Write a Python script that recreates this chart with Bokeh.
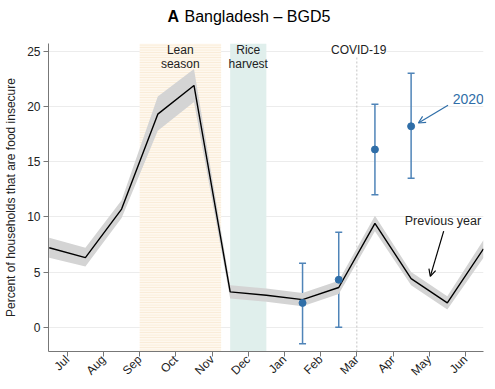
from bokeh.plotting import figure
from bokeh.layouts import column
from bokeh.models import (ColumnDataSource, BoxAnnotation, Label, Whisker,
                          TeeHead, Arrow, OpenHead, FixedTicker)
from bokeh.core.properties import value
from bokeh.embed import file_html
from bokeh.resources import INLINE
import math

# ---- data ----
months = ["Jul", "Aug", "Sep", "Oct", "Nov", "Dec", "Jan", "Feb", "Mar", "Apr", "May", "Jun"]
prev_x = [-0.5, 0.5, 1.5, 2.5, 3.5, 4.5, 5.5, 6.5, 7.5, 8.5, 9.5, 10.5, 11.5]
prev_year = [7.2, 6.3, 10.7, 19.3, 21.9, 3.2, 2.9, 2.5, 3.6, 9.4, 4.4, 2.2, 7.1]
prev_lo = [6.3, 5.5, 9.9, 17.8, 20.4, 2.6, 2.3, 1.9, 3.0, 8.7, 3.8, 1.6, 6.3]
prev_hi = [8.1, 7.2, 11.5, 20.9, 23.4, 3.8, 3.5, 3.1, 4.2, 10.1, 5.0, 2.8, 7.9]

y2020_x = [6.5, 7.5, 8.5, 9.5]
y2020 = [2.2, 4.3, 16.1, 18.2]
y2020_lo = [-1.5, 0.0, 12.0, 13.5]
y2020_hi = [5.8, 8.6, 20.2, 23.0]

lean_season = (2.0, 4.25)
rice_harvest = (4.5, 5.5)
covid_start = 8.0
y_ticks = [0, 5, 10, 15, 20, 25]
title_letter = "A"
title_text = "Bangladesh \u2013 BGD5"

FONT = "Liberation Sans"
BLUE = "#2f6ea8"
Y0, Y1 = -2.2, 25.7

# ---- title strip (its frame is aligned with the main plot frame: 48..483 px) ----
t = figure(width=488, height=43, x_range=(48, 483), y_range=(0, 43),
           output_backend="svg", toolbar_location=None,
           x_axis_type=None, y_axis_type=None,
           min_border_left=48, min_border_right=5, min_border_top=0, min_border_bottom=0)
t.outline_line_color = None
t.xgrid.grid_line_color = None
t.ygrid.grid_line_color = None
t.text(x=[167], y=[27], text=[title_letter], text_font=value(FONT),
       text_font_size="16px", text_font_style="bold", text_color="black",
       text_align="left", text_baseline="middle")
t.text(x=[184], y=[27], text=[title_text], text_font=value(FONT),
       text_font_size="16px", text_color="black",
       text_align="left", text_baseline="middle")

# ---- main plot ----
p = figure(width=488, height=343, x_range=(-0.52, 11.5), y_range=(Y0, Y1),
           output_backend="svg", toolbar_location=None,
           min_border_left=48, min_border_right=5, min_border_top=0, min_border_bottom=10)
p.title = None
p.outline_line_color = None

p.add_layout(BoxAnnotation(left=lean_season[0], right=lean_season[1],
                           fill_color="#fef8ef", fill_alpha=1.0, line_color=None,
                           hatch_pattern="horizontal_line", hatch_color="#f8e6cc",
                           hatch_alpha=0.8, hatch_scale=2.5, hatch_weight=1,
                           level="underlay"))
p.add_layout(BoxAnnotation(left=rice_harvest[0], right=rice_harvest[1],
                           fill_color="#e0efec", fill_alpha=1.0, line_color=None,
                           level="underlay"))

p.segment(x0=[covid_start], y0=[Y0], x1=[covid_start], y1=[Y1],
          line_color="#c4c4c4", line_dash="2 2", line_width=1)

src = ColumnDataSource(dict(x=prev_x, y=prev_year, lo=prev_lo, hi=prev_hi))
p.varea(x="x", y1="lo", y2="hi", source=src, fill_color="#d4d4d4", fill_alpha=1.0)
p.line(x="x", y="y", source=src, line_color="black", line_width=1.4)

src20 = ColumnDataSource(dict(x=y2020_x, y=y2020, lo=y2020_lo, hi=y2020_hi))
p.add_layout(Whisker(base="x", upper="hi", lower="lo", source=src20, dimension="height",
                     line_color="#4f84b8", line_width=1.5,
                     upper_head=TeeHead(size=7, line_color="#4f84b8", line_width=1.5),
                     lower_head=TeeHead(size=7, line_color="#4f84b8", line_width=1.5)))
p.scatter(x="x", y="y", source=src20, size=7, fill_color=BLUE, line_color=BLUE)


def lab(x, y, txt, **kw):
    d = dict(text_font=FONT, text_font_size="12px", text_color="#222222",
             text_align="center", text_baseline="top")
    d.update(kw)
    p.add_layout(Label(x=x, y=y, text=txt, **d))


lab(3.12, 25.75, "Lean\nseason", text_line_height=1.0)
lab(5.0, 25.75, "Rice\nharvest", text_line_height=1.0)
lab(8.05, 25.75, "COVID-19", background_fill_color="white")
lab(11.08, 20.7, "2020", text_color=BLUE, text_font_size="14px", text_baseline="middle")
lab(10.38, 9.6, "Previous year", text_font_size="12.5px", text_baseline="middle")

p.add_layout(Arrow(end=OpenHead(size=7, line_color=BLUE, line_width=1.2),
                   x_start=10.52, y_start=20.1, x_end=9.7, y_end=18.5,
                   line_color=BLUE, line_width=1.2))
p.add_layout(Arrow(end=OpenHead(size=7, line_color="black", line_width=1.2),
                   x_start=10.4, y_start=8.7, x_end=10.03, y_end=4.6,
                   line_color="black", line_width=1.2))

p.xaxis.ticker = FixedTicker(ticks=list(range(len(months))))
p.xaxis.major_label_overrides = {i: m for i, m in enumerate(months)}
p.xaxis.major_label_orientation = math.pi / 4
p.xaxis.major_label_standoff = 1
p.yaxis.ticker = FixedTicker(ticks=y_ticks)
p.yaxis.bounds = (Y0, Y1)
p.yaxis.axis_label = "Percent of households that are food insecure"
for ax in (p.xaxis[0], p.yaxis[0]):
    ax.axis_line_color = "#777777"
    ax.major_tick_line_color = "#777777"
    ax.major_tick_out = 5
    ax.major_tick_in = 0
    ax.minor_tick_line_color = None
    ax.major_label_text_font = FONT
    ax.major_label_text_font_size = "12px"
    ax.major_label_text_color = "#222222"
p.yaxis.axis_label_text_font = FONT
p.yaxis.axis_label_text_font_size = "12px"
p.yaxis.axis_label_text_font_style = "normal"
p.yaxis.axis_label_text_color = "#222222"
p.yaxis.axis_label_standoff = 6
p.yaxis.major_label_standoff = 3
p.xgrid.grid_line_color = None
p.ygrid.grid_line_color = "#ececec"

layout = column(t, p, spacing=0)
open("out.html", "w").write(file_html(layout, INLINE))
